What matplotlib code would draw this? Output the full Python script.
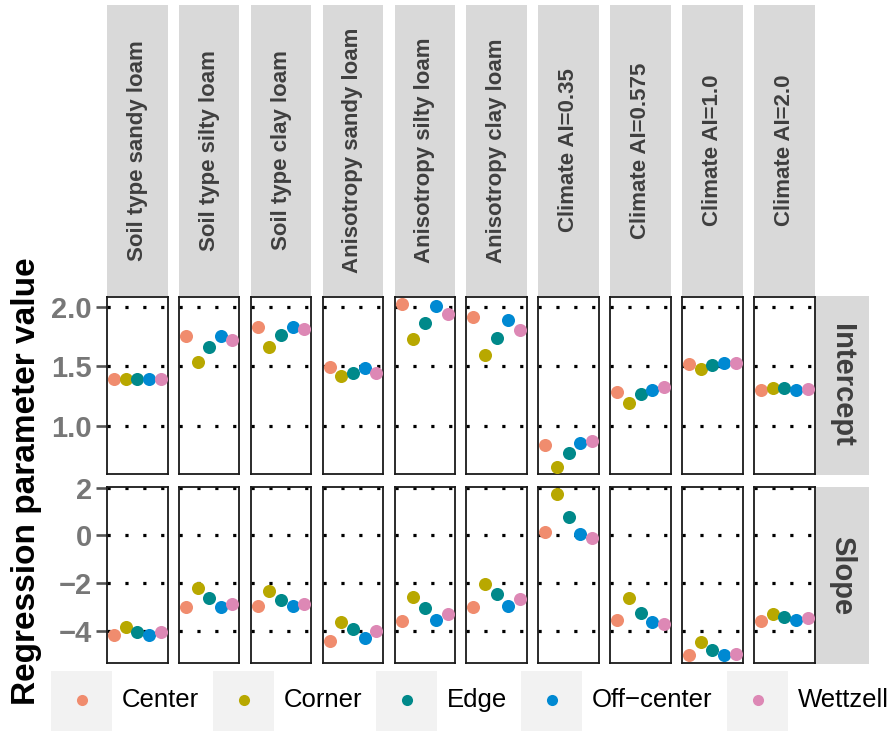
import numpy as np
import matplotlib
matplotlib.use("Agg")
import matplotlib.pyplot as plt
from matplotlib.patches import Rectangle
from matplotlib.lines import Line2D

plt.rcParams['font.family'] = ['Liberation Sans', 'DejaVu Sans']

facets = ["Soil type sandy loam", "Soil type silty loam", "Soil type clay loam",
          "Anisotropy sandy loam", "Anisotropy silty loam", "Anisotropy clay loam",
          "Climate AI=0.35", "Climate AI=0.575", "Climate AI=1.0", "Climate AI=2.0"]
locations = ["Center", "Corner", "Edge", "Off\u2212center", "Wettzell"]
colors = ["#F08C6E", "#B8A800", "#00898A", "#0089D2", "#DD88B5"]
rows = ["Intercept", "Slope"]

# one value per facet, per location
intercept_center = [1.39, 1.755, 1.83, 1.492, 2.02, 1.911, 0.839, 1.288, 1.52, 1.302]
intercept_corner = [1.39, 1.537, 1.66, 1.42, 1.73, 1.598, 0.657, 1.193, 1.476, 1.316]
intercept_edge = [1.39, 1.66, 1.763, 1.442, 1.866, 1.735, 0.772, 1.266, 1.514, 1.316]
intercept_offcenter = [1.39, 1.755, 1.833, 1.484, 2.006, 1.889, 0.856, 1.305, 1.528, 1.302]
intercept_wettzell = [1.39, 1.724, 1.816, 1.447, 1.94, 1.807, 0.878, 1.327, 1.531, 1.31]

slope_center = [-4.18, -2.99, -2.95, -4.42, -3.6, -3.0, 0.15, -3.53, -5.03, -3.6]
slope_corner = [-3.82, -2.2, -2.35, -3.63, -2.57, -2.02, 1.72, -2.61, -4.45, -3.31]
slope_edge = [-4.03, -2.63, -2.71, -3.92, -3.06, -2.46, 0.78, -3.24, -4.79, -3.43]
slope_offcenter = [-4.17, -2.99, -2.97, -4.29, -3.54, -2.95, 0.05, -3.61, -5.03, -3.56]
slope_wettzell = [-4.07, -2.89, -2.89, -4.01, -3.31, -2.68, -0.11, -3.7, -4.96, -3.46]

intercept_ticks = [1.0, 1.5, 2.0]
intercept_labels = ["1.0", "1.5", "2.0"]
slope_ticks = [-4, -2, 0, 2]
slope_labels = ["\u22124", "\u22122", "0", "2"]

values = {
    "Intercept": [intercept_center, intercept_corner, intercept_edge,
                  intercept_offcenter, intercept_wettzell],
    "Slope": [slope_center, slope_corner, slope_edge,
              slope_offcenter, slope_wettzell],
}
ticks = {"Intercept": (intercept_ticks, intercept_labels),
         "Slope": (slope_ticks, slope_labels)}
ylims = {"Intercept": (0.598, 2.081), "Slope": (-5.35, 2.03)}

W, H = 893, 731
fig = plt.figure(figsize=(W / 100, H / 100), dpi=100)


def px_axes(x0, y0, x1, y1):
    # pixel box measured from the top-left corner
    return fig.add_axes([x0 / W, 1 - y1 / H, (x1 - x0) / W, (y1 - y0) / H])


strip_gray = "#D9D9D9"
strip_text = "#3F3F3F"
col_left = [107 + i * 71.9 for i in range(len(facets))]
col_w = 60.5
row_box = {"Intercept": (297, 474), "Slope": (487, 663)}

for j, name in enumerate(facets):
    x0 = col_left[j]
    sax = px_axes(x0, 5, x0 + col_w, 296)
    sax.set_facecolor(strip_gray)
    sax.set_xticks([])
    sax.set_yticks([])
    for sp in sax.spines.values():
        sp.set_visible(False)
    sax.text(0.5, 0.5, name, rotation=90, ha="center", va="center",
             fontsize=16, fontweight="bold", color=strip_text,
             transform=sax.transAxes)

    for row in rows:
        y0, y1 = row_box[row]
        ax = px_axes(x0, y0, x0 + col_w, y1)
        ax.set_xlim(0.4, 5.6)
        ax.set_ylim(*ylims[row])
        tk, lb = ticks[row]
        for t in tk:
            ax.axhline(t, color="black", lw=2.3, linestyle=(0, (1, 4.6)),
                       dash_capstyle="butt", zorder=1)
        for k, loc in enumerate(locations):
            ax.plot(k + 1, values[row][k][j], "o", color=colors[k],
                    markersize=9.4, markeredgewidth=0, zorder=3)
        ax.set_xticks([])
        for sp in ax.spines.values():
            sp.set_linewidth(1.3)
            sp.set_color("#1A1A1A")
        if j == 0:
            ax.set_yticks(tk, labels=lb, fontweight="bold")
            ax.tick_params(axis="y", labelsize=21, labelcolor="#777777",
                           length=8, width=1.9, color="#555555", pad=3)
        else:
            ax.set_yticks([])

# row strips on the right
for row in rows:
    y0, y1 = row_box[row]
    rax = px_axes(816, y0 - (1 if row == "Intercept" else 0), 869, y1 + 1)
    rax.set_facecolor(strip_gray)
    rax.set_xticks([])
    rax.set_yticks([])
    for sp in rax.spines.values():
        sp.set_visible(False)
    rax.text(0.5, 0.5, row, rotation=-90, ha="center", va="center",
             fontsize=21, fontweight="bold", color=strip_text,
             transform=rax.transAxes)

fig.text(27 / W, 1 - 481 / H, "Regression parameter value", rotation=90,
         ha="center", va="center", fontsize=24, fontweight="bold", color="black")

# legend along the bottom
key_left = [51, 213, 376, 521, 727]
key_w = 61
legend_y = 700
for k, loc in enumerate(locations):
    kx = key_left[k]
    fig.add_artist(Rectangle((kx / W, 0), key_w / W, (731 - 671) / H,
                             transform=fig.transFigure, facecolor="#F2F2F2",
                             edgecolor="none"))
    fig.add_artist(Line2D([(kx + key_w / 2) / W], [1 - legend_y / H],
                          marker="o", color=colors[k], markersize=8,
                          markeredgewidth=0, transform=fig.transFigure))
    fig.text((kx + key_w + 10) / W, 1 - legend_y / H, loc, ha="left",
             va="center", fontsize=18.5, color="black")

fig.savefig("out.png", dpi=100)
